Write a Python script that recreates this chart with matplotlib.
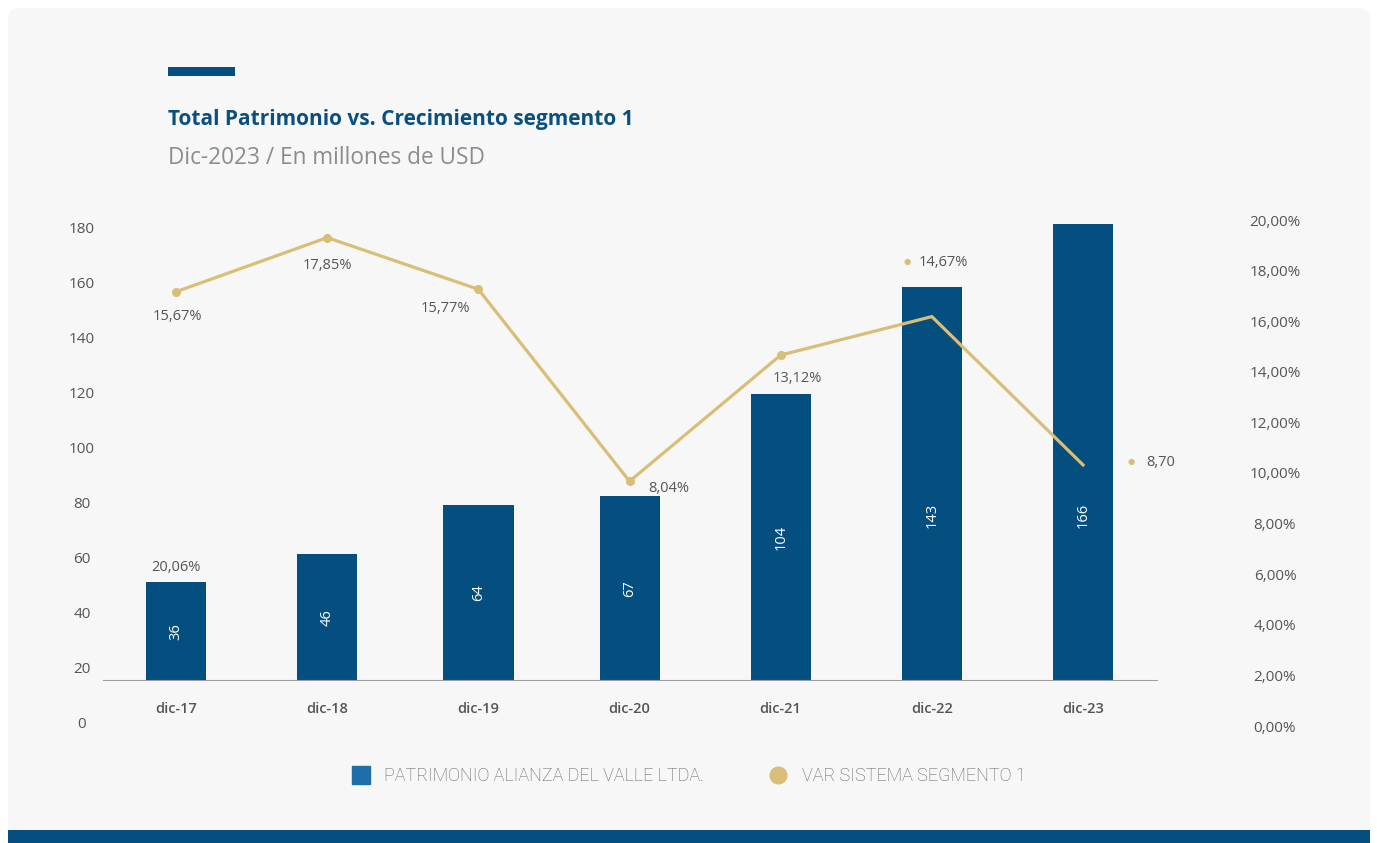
import matplotlib
matplotlib.use("Agg")
import matplotlib.pyplot as plt
from matplotlib.patches import FancyBboxPatch, Rectangle
from matplotlib.lines import Line2D

# ---------------- data ----------------
categories = ["dic-17", "dic-18", "dic-19", "dic-20", "dic-21", "dic-22", "dic-23"]
patrimonio = [36, 46, 64, 67, 104, 143, 166]
var_segmento = [15.67, 17.85, 15.77, 8.04, 13.12, 14.67, 8.70]
var_labels = ["15,67%", "17,85%", "15,77%", "8,04%", "13,12%", "14,67%", "8,70"]
extra_label = "20,06%"
left_ticks = [0, 20, 40, 60, 80, 100, 120, 140, 160, 180]
right_ticks = [0, 2, 4, 6, 8, 10, 12, 14, 16, 18, 20]

# ---------------- style ----------------
W, H = 1377, 843
BLUE = "#044f80"
LEG_BLUE = "#1f6ea7"
GOLD = "#d9be78"
TXT = "#555555"
FONT = "Open Sans"
plt.rcParams["font.family"] = [FONT, "DejaVu Sans"]

fig = plt.figure(figsize=(W / 100, H / 100), dpi=100)
fig.patch.set_facecolor("white")

# background "card" in pixel coordinates
bg = fig.add_axes([0, 0, 1, 1], zorder=-5)
bg.set_xlim(0, W)
bg.set_ylim(H, 0)
bg.axis("off")
bg.add_patch(FancyBboxPatch((8, 8), 1362, 850, boxstyle="round,pad=0,rounding_size=12",
                            fc="#f7f7f7", ec="none"))
bg.add_patch(Rectangle((8, 830), 1362, 13, fc=BLUE, ec="none"))
bg.add_patch(Rectangle((168, 67), 67, 8.5, fc=BLUE, ec="none"))
bg.text(168, 120, "Total Patrimonio vs. Crecimiento segmento 1", fontsize=15,
        fontweight="bold", color="#0b4f80", va="center", ha="left")
bg.text(168, 158, "Dic-2023 / En millones de USD", fontsize=16.3,
        color="#8c8c8c", va="center", ha="left")

# ---------------- data axes ----------------
ax_left, ax_right = 103, 1158
ax_bottom, ax_top = 681, 200
ax = fig.add_axes([ax_left / W, (H - ax_bottom) / H, (ax_right - ax_left) / W,
                   (ax_bottom - ax_top) / H])
ax.set_facecolor("none")
x = list(range(len(categories)))
widths = [0.397, 0.397, 0.47, 0.397, 0.397, 0.397, 0.397]
bars = ax.bar(x, patrimonio, width=widths, color=BLUE, zorder=2)
ax.set_xlim(-0.483, 6.496)
ax.set_ylim(0, (ax_bottom - ax_top) / 2.755)
ax.axhline(0, color="#9e9e9e", lw=1.5, zorder=3)
for s in ax.spines.values():
    s.set_visible(False)
ax.set_yticks([])
ax.set_xticks(x, categories)
ax.tick_params(axis="x", length=0, pad=15, labelsize=10.5, labelcolor=TXT)
for lbl in ax.get_xticklabels():
    lbl.set_fontweight("semibold")

for xi, v in zip(x, patrimonio):
    ax.text(xi, min(v / 2, 60), str(v), rotation=90, color="white", fontsize=10.5,
            ha="center", va="center", zorder=4)
ax.annotate(extra_label, (x[0], patrimonio[0]), xytext=(0, 10), textcoords="offset points",
            ha="center", va="center", fontsize=10.5, color=TXT)

ax2 = ax.twinx()
ax2.set_ylim(0, (ax_bottom - ax_top) / 24.84)
ax2.axis("off")
ax2.plot(x, var_segmento, color=GOLD, lw=2.3, marker="o", ms=5.5,
         markevery=[0, 1, 2, 3, 4], zorder=5, solid_joinstyle="miter")

offsets = [(1, -18), (0, -20), (-24, -14), (28, -5), (12, -17), (8, 39), (56, 2)]
for xi, v, lab, off in zip(x, var_segmento, var_labels, offsets):
    ax2.annotate(lab, (xi, v), xytext=off, textcoords="offset points",
                 ha="center", va="center", fontsize=10.5, color=TXT)
for xi, v, off in [(x[5], var_segmento[5], (-18, 39)), (x[6], var_segmento[6], (35, 2))]:
    ax2.annotate("\u25CF", (xi, v), xytext=off, textcoords="offset points",
                 ha="center", va="center", fontsize=6, color=GOLD)

# ---------------- tick-label axes ----------------
lab_bottom, lab_top = 726, 220
lab = fig.add_axes([ax_left / W, (H - lab_bottom) / H, (ax_right - ax_left) / W,
                    (lab_bottom - lab_top) / H], zorder=-1)
lab.patch.set_visible(False)
for s in lab.spines.values():
    s.set_visible(False)
lab.set_xticks([])
lab.set_ylim(-1.45, -1.45 + (lab_bottom - lab_top) / 2.75)
lab.set_yticks(left_ticks, [str(t) for t in left_ticks])
lab.tick_params(axis="y", length=0, pad=15.1, labelsize=11, labelcolor=TXT)
for l in lab.get_yticklabels():
    l.set_ha("center")
lab2 = lab.twinx()
lab2.patch.set_visible(False)
for s in lab2.spines.values():
    s.set_visible(False)
lab2.set_ylim(0, 20)
lab2.set_yticks(right_ticks, [f"{t},00%" for t in right_ticks])
lab2.tick_params(axis="y", length=0, pad=84.2, labelsize=11, labelcolor=TXT)
for l in lab2.get_yticklabels():
    l.set_ha("center")

# ---------------- legend ----------------
handles = [Line2D([], [], ls="none", marker="s", ms=13, color=LEG_BLUE),
           Line2D([], [], ls="none", marker="o", ms=12, color=GOLD)]
leg = fig.legend(handles, ["PATRIMONIO ALIANZA DEL VALLE LTDA.", "VAR SISTEMA SEGMENTO 1"],
                 loc="center", bbox_to_anchor=(0.5, (H - 776) / H), ncol=2, frameon=False,
                 columnspacing=3.6, handletextpad=0.8, handlelength=1.0,
                 prop={"family": "Roboto", "weight": "light", "size": 13})
for t in leg.get_texts():
    t.set_color("#5f5f5f")

fig.savefig("out.png", dpi=100, facecolor="white")
